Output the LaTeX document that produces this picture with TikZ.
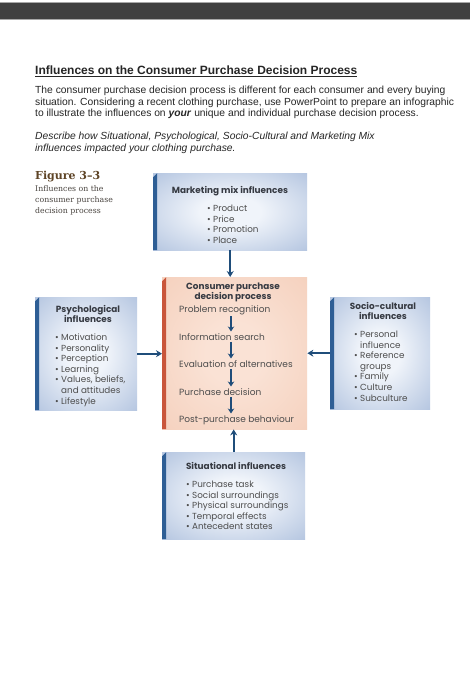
\documentclass[tikz,border=0pt]{standalone}
\usepackage{fontspec}
\setmainfont{Liberation Sans}
\newfontfamily\boxfont{Poppins}
\newfontfamily\figfont{DejaVu Serif}
\usetikzlibrary{positioning, arrows.meta}

\definecolor{barGrey}{HTML}{404040}
\definecolor{barEdge}{HTML}{A8A8A8}
\definecolor{arrowBlue}{HTML}{1F4D7A}
\definecolor{edgeBlue}{HTML}{2E5E95}
\definecolor{edgeRed}{HTML}{C9563B}
\definecolor{figBrown}{HTML}{5E4426}
\definecolor{capGrey}{HTML}{4A4540}
\definecolor{inkDark}{HTML}{363A42}
\definecolor{inkGrey}{HTML}{4D4D4D}
\definecolor{glowBlueIn}{HTML}{F0F4FA}
\definecolor{glowBlueOut}{HTML}{7896C6}
\definecolor{glowPeachIn}{HTML}{FAE2D5}
\definecolor{glowPeachOut}{HTML}{F0C0A7}

\pgfdeclareradialshading{blueglow}{\pgfpoint{0bp}{0bp}}{color(0bp)=(glowBlueIn); color(10bp)=(glowBlueIn); color(62bp)=(glowBlueOut); color(75bp)=(glowBlueOut)}
\pgfdeclareradialshading{peachglow}{\pgfpoint{0bp}{0bp}}{color(0bp)=(glowPeachIn); color(10bp)=(glowPeachIn); color(62bp)=(glowPeachOut); color(75bp)=(glowPeachOut)}

\newcommand\bul{\textbullet\ }
\newcommand\ind{\phantom{\textbullet\ }}

\begin{document}
\begin{tikzpicture}[x=1pt, y=-1pt,
    every node/.style={inner sep=0pt},
    sidebox/.style 2 args={rectangle, anchor=north west, shading=#1,
      path picture={\fill[#2] ([shift={(0,4)}]path picture bounding box.north west)
        -- ([shift={(4,0)}]path picture bounding box.north west)
        -- ([shift={(4,0)}]path picture bounding box.south west)
        -- (path picture bounding box.south west) -- cycle;}},
    boxhead/.style={font=\boxfont\bfseries\fontsize{8.9}{10.4}\selectfont, text=inkDark, anchor=base},
    boxlist/.style={font=\boxfont\fontsize{8.8}{10.6}\selectfont, text=inkGrey, anchor=base west},
    stepnode/.style={font=\boxfont\fontsize{9}{10}\selectfont, text=inkGrey, anchor=base west},
    flow/.style={-{Stealth[length=6pt,width=7pt]}, line width=1.8pt, draw=arrowBlue},
    stepflow/.style={-{Stealth[length=5pt,width=6.5pt]}, line width=1.6pt, draw=arrowBlue,
      shorten <=1.5pt, shorten >=1.5pt}]

  \fill[white] (0,0) rectangle (470,700);
  \useasboundingbox (0,0) rectangle (470,700);

  % top bar
  \fill[barGrey] (0,2.5) rectangle (470,19.5);
  \draw[barEdge, line width=0.8pt] (0,2.5) -- (470,2.5) (0,19.5) -- (470,19.5);

  % heading and task
  \node[anchor=base west, font=\bfseries\fontsize{12}{14}\selectfont, text=black!85] (title) at (35,75)
    {\underline{Influences on the Consumer Purchase Decision Process}};
  \node[anchor=base west, font=\fontsize{10.3}{11.5}\selectfont, text=black!85] (task) at (35,94)
    {\begin{tabular}[t]{@{}l@{}}
      The consumer purchase decision process is different for each consumer and every buying\\
      situation. Considering a recent clothing purchase, use PowerPoint to prepare an infographic\\
      to illustrate the influences on \textbf{\itshape your} unique and individual purchase decision process.
    \end{tabular}};
  \node[anchor=base west, font=\itshape\fontsize{10.3}{11.5}\selectfont, text=black!85] (ask) at (35,140)
    {\begin{tabular}[t]{@{}l@{}}
      Describe how Situational, Psychological, Socio-Cultural and Marketing Mix\\
      influences impacted your clothing purchase.
    \end{tabular}};

  % figure caption
  \node[anchor=base west, font=\figfont\bfseries\fontsize{11}{12}\selectfont, text=figBrown] (fig) at (35,180) {Figure 3–3};
  \node[anchor=base west, font=\figfont\fontsize{7.8}{10.7}\selectfont, text=capGrey] (cap) at (35,192)
    {\begin{tabular}[t]{@{}l@{}}Influences on the\\consumer purchase\\decision process\end{tabular}};

  % boxes
  \node[sidebox={blueglow}{edgeBlue}, minimum width=154pt, minimum height=77pt] (mkt) at (153,173) {};
  \node[sidebox={peachglow}{edgeRed}, minimum width=145pt, minimum height=152pt] (cdp) at (162,277) {};
  \node[sidebox={blueglow}{edgeBlue}, minimum width=102pt, minimum height=113pt] (psy) at (35,297) {};
  \node[sidebox={blueglow}{edgeBlue}, minimum width=100pt, minimum height=112pt] (soc) at (330,297) {};
  \node[sidebox={blueglow}{edgeBlue}, minimum width=143pt, minimum height=87pt] (sit) at (162,452) {};

  % marketing mix
  \node[boxhead] (mkt-h) at (230,194) {Marketing mix influences};
  \node[boxlist] (mkt-l) at (207,211.5)
    {\begin{tabular}[t]{@{}l@{}}\bul Product\\\bul Price\\\bul Promotion\\\bul Place\end{tabular}};

  % psychological
  \node[boxhead] (psy-h) at (88,312)
    {\begin{tabular}[t]{@{}c@{}}Psychological\\influences\end{tabular}};
  \node[boxlist] (psy-l) at (55,340.5)
    {\begin{tabular}[t]{@{}l@{}}\bul Motivation\\\bul Personality\\\bul Perception\\\bul Learning\\
      \bul Values, beliefs,\\\ind and attitudes\\\bul Lifestyle\end{tabular}};

  % socio-cultural
  \node[boxhead] (soc-h) at (383,309.5)
    {\begin{tabular}[t]{@{}c@{}}Socio-cultural\\influences\end{tabular}};
  \node[boxlist] (soc-l) at (354,337.5)
    {\begin{tabular}[t]{@{}l@{}}\bul Personal\\\ind influence\\\bul Reference\\\ind groups\\
      \bul Family\\\bul Culture\\\bul Subculture\end{tabular}};

  % situational
  \node[boxhead] (sit-h) at (236,469) {Situational influences};
  \node[boxlist] (sit-l) at (186,487.5)
    {\begin{tabular}[t]{@{}l@{}}\bul Purchase task\\\bul Social surroundings\\\bul Physical surroundings\\
      \bul Temporal effects\\\bul Antecedent states\end{tabular}};

  % decision process
  \node[boxhead] (cdp-h) at (233,289.5)
    {\begin{tabular}[t]{@{}c@{}}Consumer purchase\\decision process\end{tabular}};
  \node[stepnode] (s1) at (179,312) {Problem recognition};
  \node[stepnode] (s2) at (179,340) {Information search};
  \node[stepnode] (s3) at (179,367) {Evaluation of alternatives};
  \node[stepnode] (s4) at (179,395) {Purchase decision};
  \node[stepnode] (s5) at (179,422) {Post-purchase behaviour};
  \coordinate (stepx) at (231,0);

  \draw[stepflow] (s1.south -| stepx) -- (s2.north -| stepx);
  \draw[stepflow] (s2.south -| stepx) -- (s3.north -| stepx);
  \draw[stepflow] (s3.south -| stepx) -- (s4.north -| stepx);
  \draw[stepflow] (s4.south -| stepx) -- (s5.north -| stepx);

  \draw[flow] (mkt.south) -- (mkt.south |- cdp.north);
  \draw[flow] (psy.east) -- (psy.east -| cdp.west);
  \draw[flow] (soc.west) -- (soc.west -| cdp.east);
  \draw[flow] (sit.north) -- (sit.north |- cdp.south);
\end{tikzpicture}
\end{document}
